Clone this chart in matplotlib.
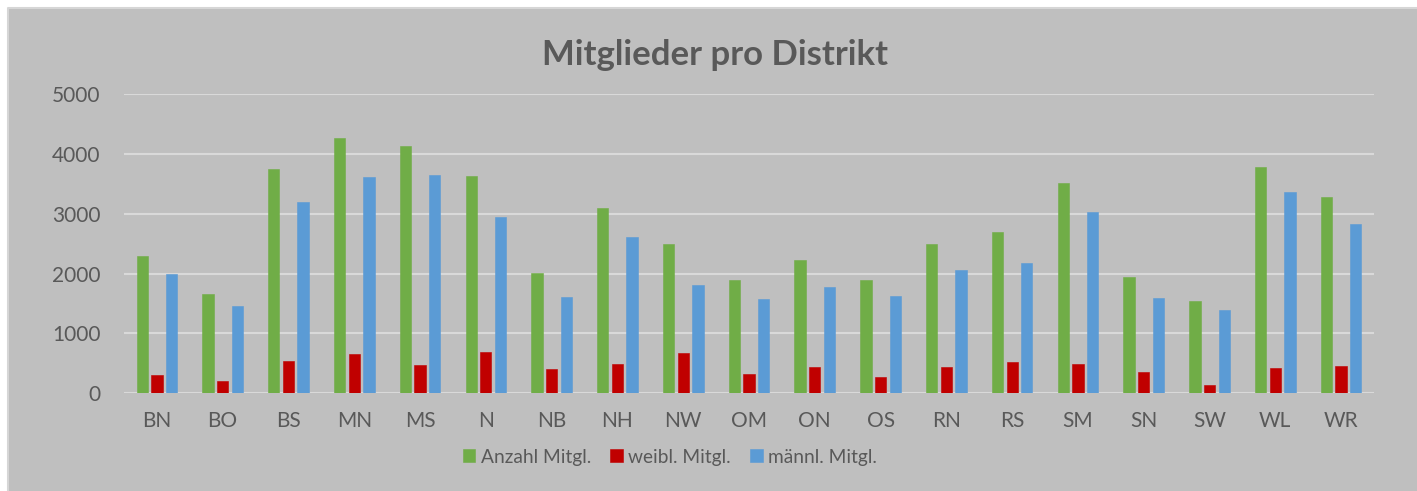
import numpy as np
import matplotlib
matplotlib.use("Agg")
import matplotlib.pyplot as plt
from matplotlib.patches import Rectangle
from matplotlib.lines import Line2D

districts = ["BN", "BO", "BS", "MN", "MS", "N", "NB", "NH", "NW", "OM",
             "ON", "OS", "RN", "RS", "SM", "SN", "SW", "WL", "WR"]
anzahl = [2300, 1665, 3747, 4265, 4126, 3625, 2010, 3096, 2489, 1893,
          2222, 1893, 2494, 2695, 3519, 1943, 1542, 3781, 3285]
weibl = [306, 200, 546, 651, 473, 685, 406, 484, 668, 323,
         440, 267, 440, 518, 484, 356, 145, 418, 462]
maennl = [1993, 1464, 3196, 3608, 3647, 2945, 1604, 2606, 1815, 1576,
          1776, 1620, 2055, 2177, 3029, 1587, 1398, 3363, 2823]

series = [("Anzahl Mitgl.", anzahl, "#70AD47"),
          ("weibl. Mitgl.", weibl, "#C00000"),
          ("männl. Mitgl.", maennl, "#5B9BD5")]

TXT = "#595959"
BG = "#BFBFBF"

plt.rcParams.update({
    "font.family": ["Lato", "DejaVu Sans"],
    "font.size": 13,
})

fig = plt.figure(figsize=(14.17, 4.91), dpi=100)
fig.patch.set_facecolor("white")
# gray chart area behind the axes, light frame on top and left
x0, y1 = 8 / 1417, 1 - 8 / 491
fig.patches.append(Rectangle((x0, 0), 1 - x0, y1, transform=fig.transFigure,
                             facecolor=BG, edgecolor="none", zorder=-10))
fig.lines.append(Line2D([x0, x0, 1], [0, y1, y1], transform=fig.transFigure,
                        color="#D6D6D6", linewidth=1.5, zorder=-9))

ax = fig.add_axes([124 / 1417, 1 - 393.3 / 491, 1250 / 1417, 299.3 / 491])
ax.patch.set_alpha(0)

x = np.arange(len(districts))
width = 0.172
step = 0.223
for i, (name, vals, col) in enumerate(series):
    ax.bar(x + (i - 1) * step, vals, width, color=col, label=name,
           edgecolor=col, linewidth=0.4, zorder=3)

ax.set_xlim(-0.5, len(districts) - 0.5)
ax.set_ylim(0, 5000)
ax.set_yticks(range(0, 5001, 1000))
ax.set_xticks(x)
ax.set_xticklabels(districts)
ax.grid(axis="y", color="#D9D9D9", linewidth=1.5, zorder=1)
ax.set_axisbelow(True)
ax.tick_params(axis="y", length=0, pad=17, labelsize=15, colors=TXT)
ax.tick_params(axis="x", length=0, pad=13, labelsize=15, colors=TXT)
for s in ax.spines.values():
    s.set_visible(False)

fig.text(715 / 1417, 1 - 55 / 491, "Mitglieder pro Distrikt", ha="center",
         va="center", fontsize=25, fontweight="bold", color=TXT)

leg = fig.legend(loc="center", bbox_to_anchor=(670 / 1417, 1 - 457 / 491),
                 ncol=3, frameon=False, fontsize=13.8, handlelength=0.65,
                 handleheight=0.65, handletextpad=0.3, columnspacing=1.0)
for t in leg.get_texts():
    t.set_color(TXT)

fig.savefig("out.png", dpi=100, facecolor=fig.get_facecolor())
